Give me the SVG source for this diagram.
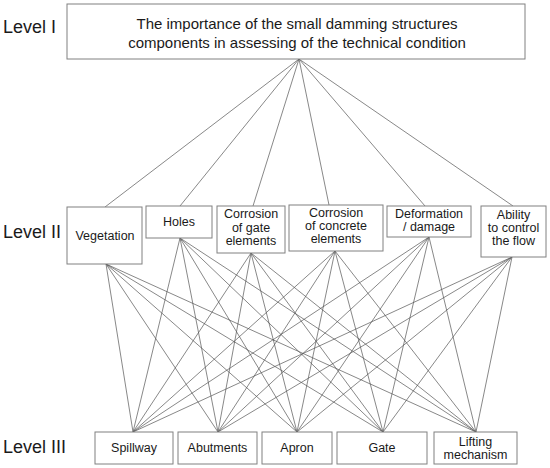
<svg xmlns="http://www.w3.org/2000/svg" width="550" height="468" viewBox="0 0 550 468">
<style>
.box{fill:#fff;stroke:#808080;stroke-width:1}
.t{font-family:"Liberation Sans",Arial,sans-serif;fill:#1a1a1a;text-anchor:middle}
.s{font-size:12.5px}
.lv{font-family:"Liberation Sans",Arial,sans-serif;fill:#1a1a1a;font-size:18px}
.c line{stroke:#555;stroke-width:0.7}
</style>
<rect width="550" height="468" fill="#fff"/>
<g id="labels">
<text class="lv" x="3" y="33">Level I</text>
<text class="lv" x="3" y="238">Level II</text>
<text class="lv" x="3" y="453">Level III</text>
</g>
<g class="c" id="connectors">
<line x1="299" y1="59" x2="105" y2="207"/>
<line x1="299" y1="59" x2="180" y2="206"/>
<line x1="299" y1="59" x2="253" y2="206"/>
<line x1="299" y1="59" x2="329" y2="205"/>
<line x1="299" y1="59" x2="425" y2="206"/>
<line x1="299" y1="59" x2="513" y2="206"/>
<line x1="106" y1="264" x2="133" y2="432"/><line x1="106" y1="264" x2="218" y2="432"/><line x1="106" y1="264" x2="297" y2="432"/><line x1="106" y1="264" x2="383" y2="432"/><line x1="106" y1="264" x2="476" y2="432"/>
<line x1="180" y1="238" x2="133" y2="432"/><line x1="180" y1="238" x2="218" y2="432"/><line x1="180" y1="238" x2="297" y2="432"/><line x1="180" y1="238" x2="383" y2="432"/><line x1="180" y1="238" x2="476" y2="432"/>
<line x1="251" y1="253" x2="133" y2="432"/><line x1="251" y1="253" x2="218" y2="432"/><line x1="251" y1="253" x2="297" y2="432"/><line x1="251" y1="253" x2="383" y2="432"/><line x1="251" y1="253" x2="476" y2="432"/>
<line x1="335" y1="251" x2="133" y2="432"/><line x1="335" y1="251" x2="218" y2="432"/><line x1="335" y1="251" x2="297" y2="432"/><line x1="335" y1="251" x2="383" y2="432"/><line x1="335" y1="251" x2="476" y2="432"/>
<line x1="429" y1="237" x2="133" y2="432"/><line x1="429" y1="237" x2="218" y2="432"/><line x1="429" y1="237" x2="297" y2="432"/><line x1="429" y1="237" x2="383" y2="432"/><line x1="429" y1="237" x2="476" y2="432"/>
<line x1="512" y1="257" x2="133" y2="432"/><line x1="512" y1="257" x2="218" y2="432"/><line x1="512" y1="257" x2="297" y2="432"/><line x1="512" y1="257" x2="383" y2="432"/><line x1="512" y1="257" x2="476" y2="432"/>
</g>
<g id="goal">
<rect class="box" x="67" y="4" width="458" height="55"/>
<text class="t" x="297" y="29" font-size="15">The importance of the small damming structures</text>
<text class="t" x="297" y="48" font-size="15">components in assessing of the technical condition</text>
</g>
<g id="vegetation">
<rect class="box" x="67" y="207" width="75" height="57"/>
<text class="t s" x="105" y="240">Vegetation</text>
</g>
<g id="holes">
<rect class="box" x="146" y="206" width="66" height="32"/>
<text class="t s" x="179" y="226">Holes</text>
</g>
<g id="corrosion-gate">
<rect class="box" x="217" y="206" width="68" height="47"/>
<text class="t s" x="251" y="218">Corrosion</text>
<text class="t s" x="251" y="231.5">of gate</text>
<text class="t s" x="251" y="245">elements</text>
</g>
<g id="corrosion-concrete">
<rect class="box" x="289" y="205" width="94" height="46"/>
<text class="t s" x="336" y="217">Corrosion</text>
<text class="t s" x="336" y="230">of concrete</text>
<text class="t s" x="336" y="243">elements</text>
</g>
<g id="deformation">
<rect class="box" x="387" y="206" width="84" height="31"/>
<text class="t s" x="429" y="217.5">Deformation</text>
<text class="t s" x="429" y="231">/ damage</text>
</g>
<g id="ability">
<rect class="box" x="481" y="206" width="65" height="51"/>
<text class="t s" x="513.5" y="219">Ability</text>
<text class="t s" x="513.5" y="232">to control</text>
<text class="t s" x="513.5" y="245">the flow</text>
</g>
<g id="spillway">
<rect class="box" x="95" y="432" width="78" height="32"/>
<text class="t s" x="134" y="452">Spillway</text>
</g>
<g id="abutments">
<rect class="box" x="178" y="432" width="79" height="32"/>
<text class="t s" x="217.5" y="452">Abutments</text>
</g>
<g id="apron">
<rect class="box" x="262" y="432" width="70" height="32"/>
<text class="t s" x="297" y="452">Apron</text>
</g>
<g id="gate">
<rect class="box" x="337" y="432" width="90" height="32"/>
<text class="t s" x="382" y="452">Gate</text>
</g>
<g id="lifting">
<rect class="box" x="434" y="432" width="83" height="32"/>
<text class="t s" x="475.5" y="446">Lifting</text>
<text class="t s" x="475.5" y="459">mechanism</text>
</g>
</svg>
